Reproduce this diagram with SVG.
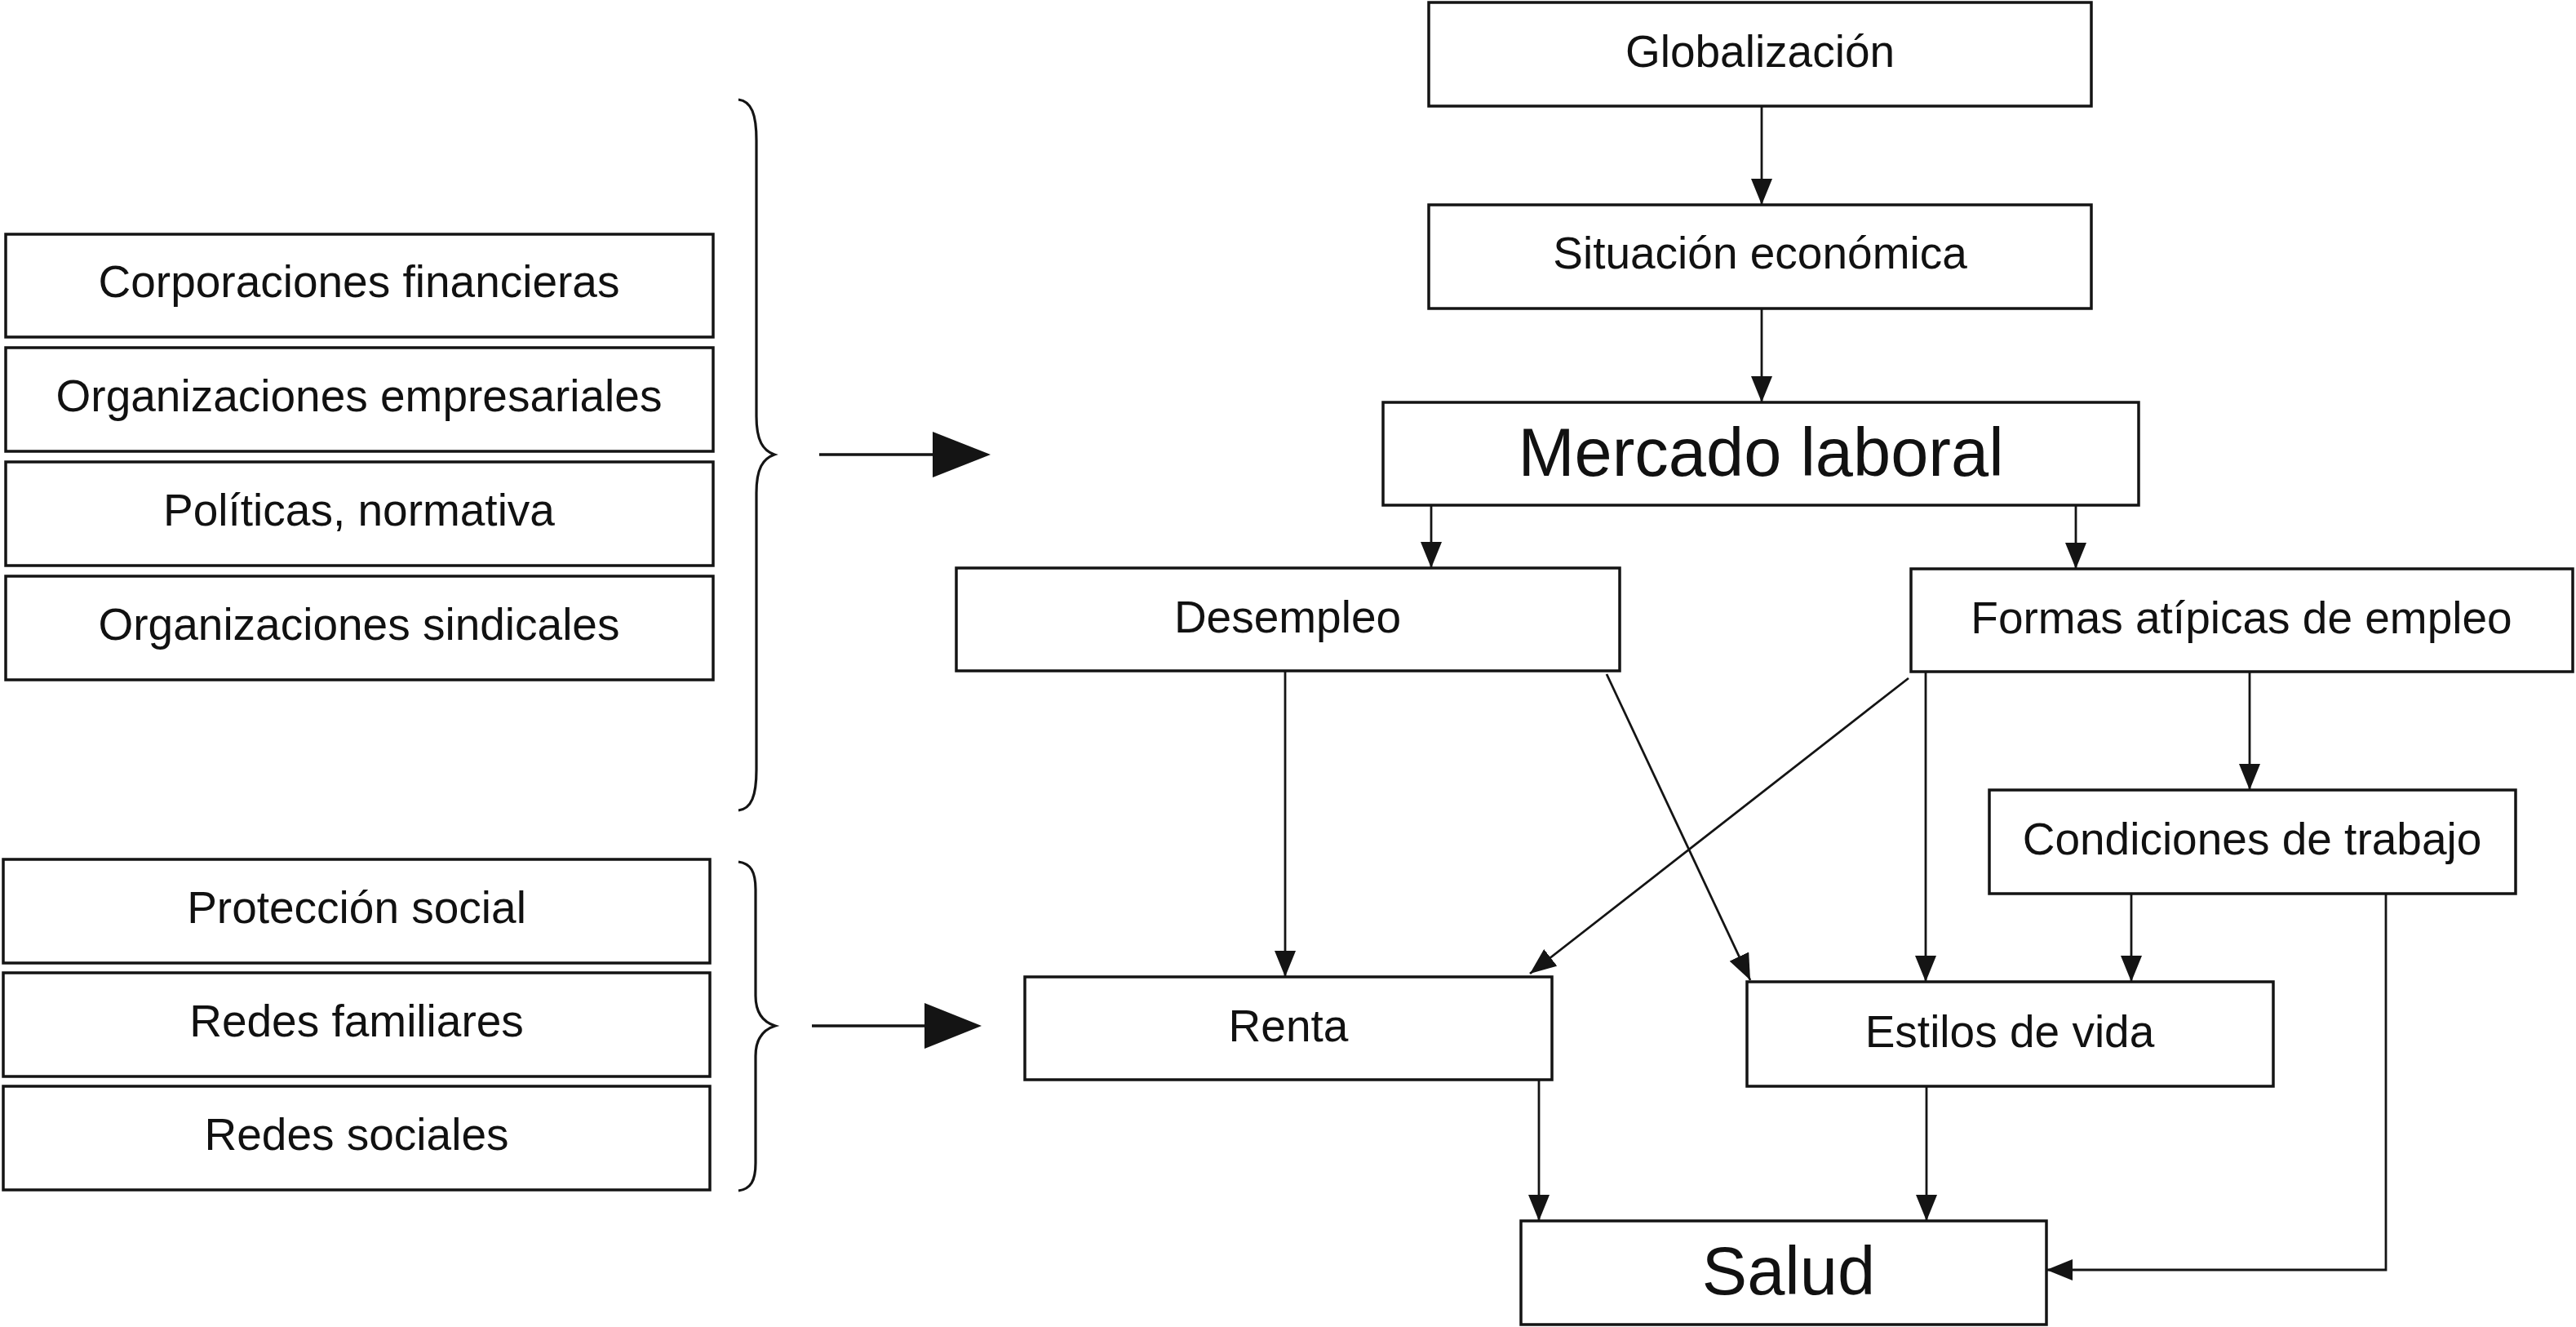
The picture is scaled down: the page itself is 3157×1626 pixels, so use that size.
<svg xmlns="http://www.w3.org/2000/svg" width="3157" height="1626" viewBox="0 0 3157 1626">
<style>
.box{fill:#fff;stroke:#141414;stroke-width:3.5}
.t{font-family:"Liberation Sans",Arial,sans-serif;font-size:55px;fill:#111;text-anchor:middle}
.big{font-size:83px}
.c{fill:none;stroke:#141414;stroke-width:2.8;marker-end:url(#ah)}
.br{fill:none;stroke:#141414;stroke-width:3.2}
.ba{stroke:#141414;stroke-width:3.3}
</style>
<defs>
<marker id="ah" markerUnits="userSpaceOnUse" markerWidth="32" markerHeight="26" viewBox="0 0 32 26" refX="32" refY="13" orient="auto">
<path d="M0,0 L32,13 L0,26 z" fill="#141414"/>
</marker>
</defs>
<rect width="3157" height="1626" fill="#fff"/>

<g id="corporaciones"><rect class="box" x="7" y="287" width="867" height="126"/><text class="t" x="440" y="364">Corporaciones financieras</text></g>
<g id="org-empresariales"><rect class="box" x="7" y="426" width="867" height="127"/><text class="t" x="440" y="504">Organizaciones empresariales</text></g>
<g id="politicas"><rect class="box" x="7" y="566" width="867" height="127"/><text class="t" x="440" y="644">Políticas, normativa</text></g>
<g id="org-sindicales"><rect class="box" x="7" y="706" width="867" height="127"/><text class="t" x="440" y="784">Organizaciones sindicales</text></g>

<g id="proteccion"><rect class="box" x="4" y="1053" width="866" height="127"/><text class="t" x="437" y="1131">Protección social</text></g>
<g id="redes-familiares"><rect class="box" x="4" y="1192" width="866" height="127"/><text class="t" x="437" y="1270">Redes familiares</text></g>
<g id="redes-sociales"><rect class="box" x="4" y="1331" width="866" height="127"/><text class="t" x="437" y="1409">Redes sociales</text></g>

<g id="brace-upper"><path class="br" d="M905,122 C921,124 927,140 927,172 L927,510 C927,540 935,552 949,557 C935,562 927,574 927,604 L927,943 C927,975 921,991 905,993"/></g>
<g id="brace-lower"><path class="br" d="M905,1056 C920,1058 926,1068 926,1090 L926,1220 C926,1240 934,1252 950,1257 C934,1262 926,1274 926,1294 L926,1425 C926,1447 920,1457 905,1459"/></g>

<g id="big-arrow-upper"><line class="ba" x1="1004" y1="557" x2="1150" y2="557"/><polygon points="1143,529 1214,557 1143,585" fill="#141414"/></g>
<g id="big-arrow-lower"><line class="ba" x1="995" y1="1257" x2="1140" y2="1257"/><polygon points="1133,1229 1203,1257 1133,1285" fill="#141414"/></g>

<g id="globalizacion"><rect class="box" x="1751" y="3" width="812" height="127"/><text class="t" x="2157" y="82">Globalización</text></g>
<g id="situacion"><rect class="box" x="1751" y="251" width="812" height="127"/><text class="t" x="2157" y="329">Situación económica</text></g>
<g id="mercado"><rect class="box" x="1695" y="493" width="926" height="126"/><text class="t big" x="2158" y="583">Mercado laboral</text></g>
<g id="desempleo"><rect class="box" x="1172" y="696" width="813" height="126"/><text class="t" x="1578" y="775">Desempleo</text></g>
<g id="formas"><rect class="box" x="2342" y="697" width="811" height="126"/><text class="t" x="2747" y="776">Formas atípicas de empleo</text></g>
<g id="condiciones"><rect class="box" x="2438" y="968" width="645" height="127"/><text class="t" x="2760" y="1047">Condiciones de trabajo</text></g>
<g id="renta"><rect class="box" x="1256" y="1197" width="646" height="126"/><text class="t" x="1579" y="1276">Renta</text></g>
<g id="estilos"><rect class="box" x="2141" y="1203" width="645" height="128"/><text class="t" x="2463" y="1283">Estilos de vida</text></g>
<g id="salud"><rect class="box" x="1864" y="1496" width="644" height="127"/><text class="t big" x="2192" y="1586">Salud</text></g>

<g id="connectors">
<line class="c" x1="2159" y1="130" x2="2159" y2="251"/>
<line class="c" x1="2159" y1="378" x2="2159" y2="493"/>
<line class="c" x1="1754" y1="619" x2="1754" y2="696"/>
<line class="c" x1="2544" y1="619" x2="2544" y2="697"/>
<line class="c" x1="1575" y1="822" x2="1575" y2="1197"/>
<line class="c" x1="1969" y1="826" x2="2145" y2="1201"/>
<line class="c" x1="2339" y1="831" x2="1875" y2="1193"/>
<line class="c" x1="2360" y1="823" x2="2360" y2="1203"/>
<line class="c" x1="2757" y1="823" x2="2757" y2="968"/>
<line class="c" x1="2612" y1="1095" x2="2612" y2="1203"/>
<polyline class="c" points="2924,1095 2924,1556 2508,1556"/>
<line class="c" x1="1886" y1="1323" x2="1886" y2="1496"/>
<line class="c" x1="2361" y1="1331" x2="2361" y2="1496"/>
</g>
</svg>
